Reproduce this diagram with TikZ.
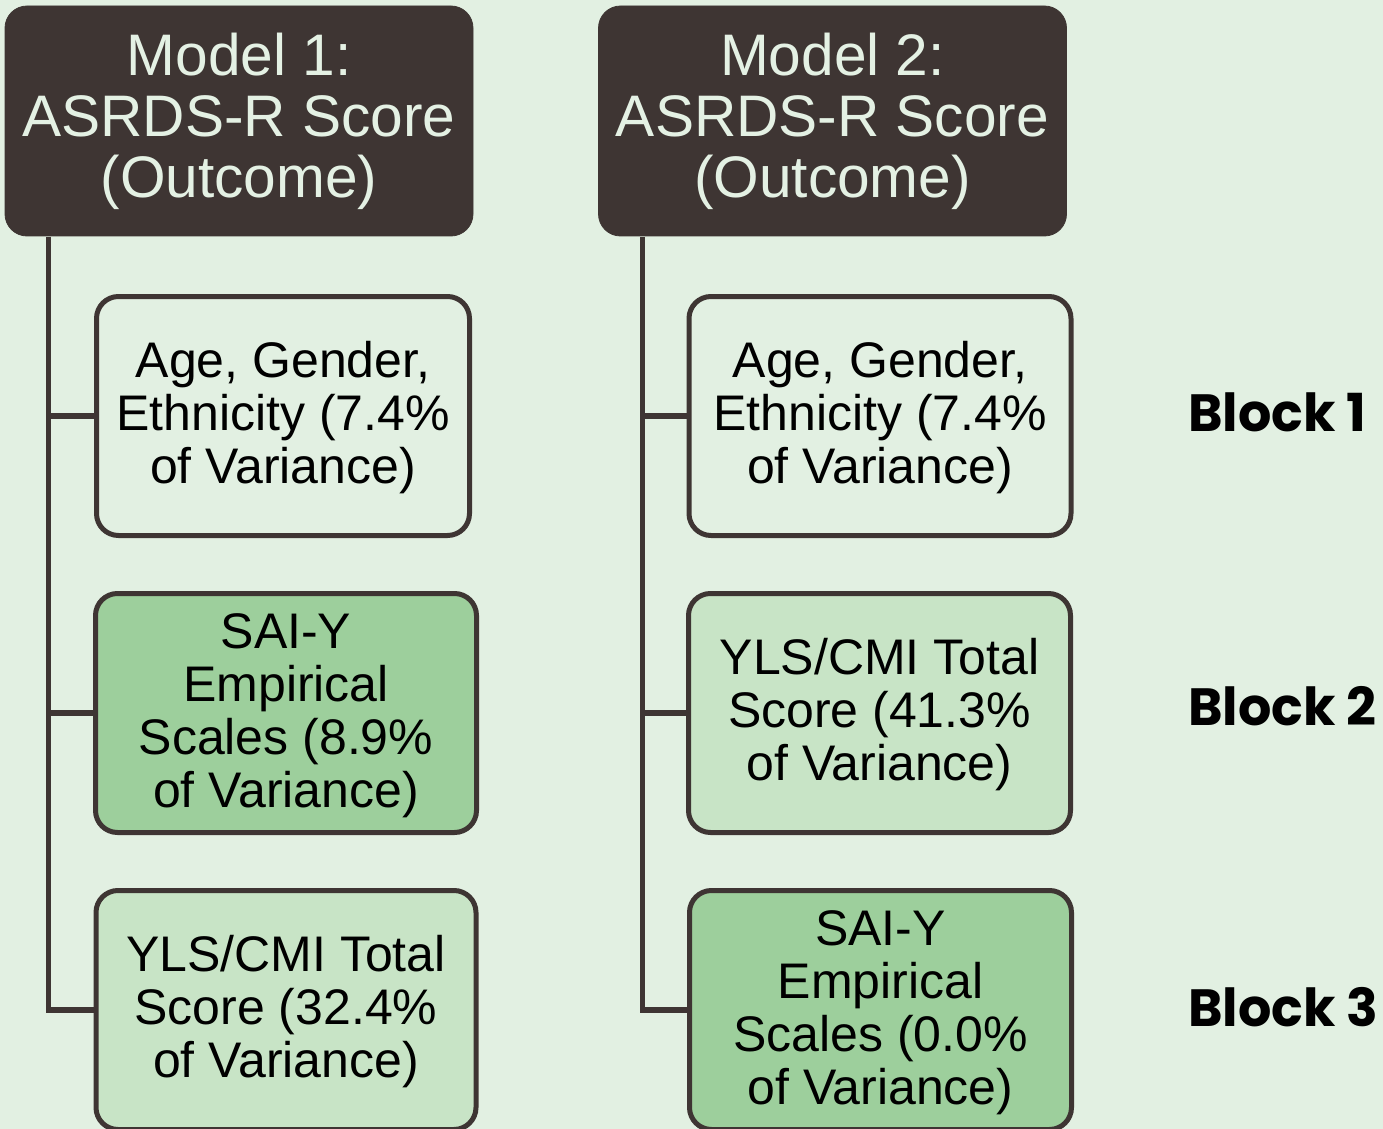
\documentclass[tikz,border=0pt]{standalone}
\usepackage{fontspec}
\setmainfont{Liberation Sans}
\newfontfamily\blockfont{Poppins}
\usetikzlibrary{calc}
\definecolor{bgc}{HTML}{E2F0E2}
\definecolor{darkc}{HTML}{3E3533}
\definecolor{palec}{HTML}{E4F1E4}
\definecolor{midgreen}{HTML}{9DCF9C}
\definecolor{litegreen}{HTML}{C8E4C6}
\newcommand{\boxtext}[1]{\raisebox{-2pt}[\height][\depth]{\begin{tabular}{@{}c@{}}#1\end{tabular}}}
\begin{document}
\begin{tikzpicture}[x=0.5pt,y=-0.5pt,
  titlebox/.style={fill=darkc, draw=darkc, rounded corners=11pt, inner sep=0pt,
    minimum width=234pt, minimum height=115pt, align=center, text=palec,
    font=\fontsize{29.3}{30.5}\selectfont},
  itembox/.style={draw=darkc, line width=2.5pt, rounded corners=11pt, inner sep=0pt,
    minimum height=119.5pt, text=black,
    font=\fontsize{25}{26.5}\selectfont},
  conn/.style={draw=darkc, line width=2.7pt},
  blocklbl/.style={anchor=base west, inner sep=0pt, font=\blockfont\bfseries\fontsize{26.2}{30}\selectfont}]
\fill[bgc] (0,0) rectangle (1383,1129);
\useasboundingbox (0,0) rectangle (1383,1129);
\begin{scope}
\clip (0,0) rectangle (1383,1129);
% Model 1
\node[titlebox] (t1) at (239,121) {Model 1:\\ASRDS-R Score\\(Outcome)};
\node[itembox, minimum width=186.5pt] (l1) at (283,416) {\boxtext{Age, Gender,\\Ethnicity (7.4\%\\of Variance)}};
\node[itembox, fill=midgreen, minimum width=190.5pt] (l2) at (286,713) {\boxtext{SAI-Y\\Empirical\\Scales (8.9\%\\of Variance)}};
\node[itembox, fill=litegreen, minimum width=190pt] (l3) at (286,1010) {\boxtext{YLS/CMI Total\\Score (32.4\%\\of Variance)}};
% Model 2
\node[titlebox] (t2) at (832.5,121) {Model 2:\\ASRDS-R Score\\(Outcome)};
\node[itembox, minimum width=191pt] (r1) at (880,416) {\boxtext{Age, Gender,\\Ethnicity (7.4\%\\of Variance)}};
\node[itembox, fill=litegreen, minimum width=191pt] (r2) at (879.5,713) {\boxtext{YLS/CMI Total\\Score (41.3\%\\of Variance)}};
\node[itembox, fill=midgreen, minimum width=191pt] (r3) at (880.5,1010) {\boxtext{SAI-Y\\Empirical\\Scales (0.0\%\\of Variance)}};
\end{scope}
% connectors
\coordinate (s1) at (48.5,237);
\coordinate (s2) at (642.5,237);
\draw[conn] (s1) |- (l3.west);
\draw[conn] (l1.west) -- (l1.west -| s1);
\draw[conn] (l2.west) -- (l2.west -| s1);
\draw[conn] (s2) |- (r3.west);
\draw[conn] (r1.west) -- (r1.west -| s2);
\draw[conn] (r2.west) -- (r2.west -| s2);
% block labels
\node[blocklbl] (bk1) at (1188,431) {Block 1};
\node[blocklbl] (bk2) at (1188,725) {Block 2};
\node[blocklbl] (bk3) at (1188,1026) {Block 3};
\end{tikzpicture}
\end{document}
